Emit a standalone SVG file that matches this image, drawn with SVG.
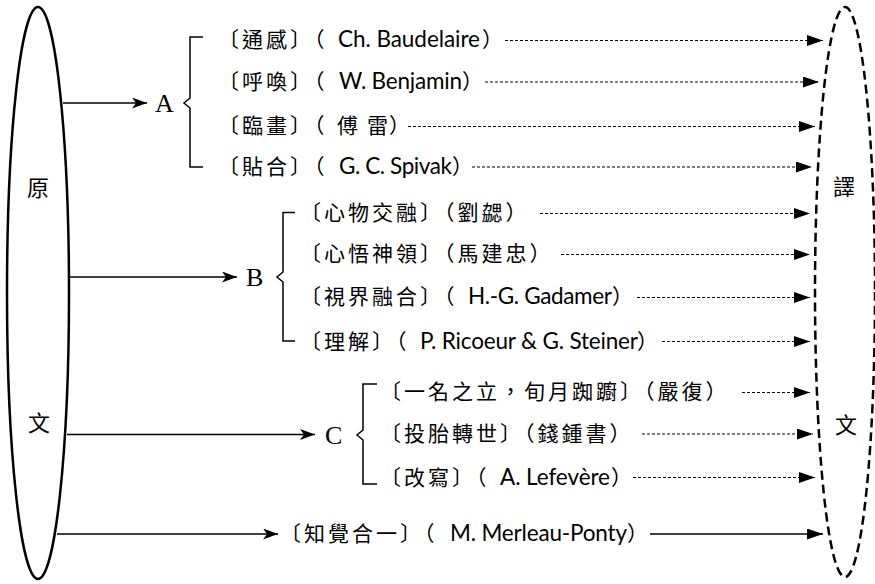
<svg xmlns="http://www.w3.org/2000/svg" width="875" height="584" viewBox="0 0 875 584">
<style>
.cjk{font-family:"Noto Sans CJK TC","Noto Sans CJK JP",sans-serif;font-size:21px;letter-spacing:3px;fill:#000}
.cjk1{font-family:"Noto Sans CJK TC","Noto Sans CJK JP",sans-serif;font-size:21px;fill:#000}
.lat{font-family:Lato,"Liberation Sans",sans-serif;font-size:22.5px;fill:#000}
.big{font-family:"Noto Sans CJK TC",sans-serif;font-size:22px;fill:#000;text-anchor:middle}
.ser{font-family:"Liberation Serif",serif;font-size:26px;fill:#000}
.sol{stroke:#000;stroke-width:1.5;fill:none}
.dash{stroke:#000;stroke-width:1;stroke-dasharray:3 2;fill:none}
.brace{stroke:#000;stroke-width:1.5;fill:none}
</style>
<defs>
<marker id="tri" markerUnits="userSpaceOnUse" markerWidth="16" markerHeight="11" refX="16" refY="5.5" orient="auto"><path d="M0,0 L16,5.5 L0,11 z" fill="#000"/></marker>
<marker id="stealth" markerUnits="userSpaceOnUse" markerWidth="15" markerHeight="11" refX="15" refY="5.5" orient="auto"><path d="M0,0 L15,5.5 L0,11 L4,5.5 z" fill="#000"/></marker>
</defs>
<rect width="875" height="584" fill="#fff"/>

<g id="source">
<ellipse cx="38" cy="293" rx="31" ry="286" fill="none" stroke="#000" stroke-width="2.5"/>
<text class="big" x="38" y="196">原</text>
<text class="big" x="39" y="431">文</text>
</g>
<g id="target">
<ellipse cx="845" cy="292" rx="30" ry="285" fill="none" stroke="#000" stroke-width="2.5" stroke-dasharray="9 5"/>
<text class="big" x="844" y="195">譯</text>
<text class="big" x="846" y="433">文</text>
</g>

<g id="groupA">
<text class="ser" x="155" y="112">A</text>
<path class="brace" d="M203,37 H190 V98 L184,103 L190,108 V167 H203"/>
</g>
<g id="groupB">
<text class="ser" x="246" y="286">B</text>
<path class="brace" d="M295,212.5 H283 V272 L277,277 L283,282 V341 H295"/>
</g>
<g id="groupC">
<text class="ser" x="325" y="444">C</text>
<path class="brace" d="M377,384 H363 V430 L357,435 L363,440 V484 H377"/>
</g>

<g id="a1"><text class="cjk" x="218" y="47">〔通感〕（</text><text class="lat" x="338" y="47" textLength="142">Ch. Baudelaire</text><text class="cjk" x="482" y="47">）</text></g>
<g id="a2"><text class="cjk" x="218" y="89">〔呼喚〕（</text><text class="lat" x="339" y="89" textLength="123">W. Benjamin</text><text class="cjk" x="462" y="89">）</text></g>
<g id="a3"><text class="cjk" x="218" y="133">〔臨畫〕（</text><text class="cjk1" x="337 367" y="133">傅雷</text><text class="cjk" x="389" y="133">）</text></g>
<g id="a4"><text class="cjk" x="218" y="174">〔貼合〕（</text><text class="lat" x="339" y="174" textLength="113">G. C. Spivak</text><text class="cjk" x="452" y="174">）</text></g>

<g id="b1"><text class="cjk" x="300" y="220">〔心物交融〕（劉勰）</text></g>
<g id="b2"><text class="cjk" x="300" y="261">〔心悟神領〕（馬建忠）</text></g>
<g id="b3"><text class="cjk" x="300" y="304">〔視界融合〕（</text><text class="lat" x="468" y="304" textLength="144">H.-G. Gadamer</text><text class="cjk" x="612" y="304">）</text></g>
<g id="b4"><text class="cjk" x="300" y="349">〔理解〕（</text><text class="lat" x="420" y="349" textLength="218">P. Ricoeur &amp; G. Steiner</text><text class="cjk" x="637" y="349">）</text></g>

<g id="c1"><text class="cjk" x="380" y="399">〔一名之立，旬月踟躕〕（嚴復）</text></g>
<g id="c2"><text class="cjk" x="380" y="441">〔投胎轉世〕（錢鍾書）</text></g>
<g id="c3"><text class="cjk" x="380" y="485">〔改寫〕（</text><text class="lat" x="500" y="485" textLength="110">A. Lefevère</text><text class="cjk" x="611" y="485">）</text></g>

<g id="d"><text class="cjk" x="280" y="541">〔知覺合一〕（</text><text class="lat" x="450" y="541" textLength="177">M. Merleau-Ponty</text><text class="cjk" x="627" y="541">）</text></g>

<g id="connectors">
<line class="sol" x1="63" y1="103" x2="147" y2="103" marker-end="url(#stealth)"/>
<line class="sol" x1="69" y1="277" x2="237" y2="277" marker-end="url(#stealth)"/>
<line class="sol" x1="67" y1="434.5" x2="315" y2="434.5" marker-end="url(#stealth)"/>
<line class="sol" x1="57" y1="534" x2="278" y2="534" marker-end="url(#stealth)"/>
<line class="sol" x1="650" y1="534" x2="823" y2="534" marker-end="url(#tri)"/>

<line class="dash" x1="505" y1="40.5" x2="823" y2="40.5" marker-end="url(#tri)"/>
<line class="dash" x1="485" y1="82" x2="819" y2="82" marker-end="url(#tri)"/>
<line class="dash" x1="408" y1="126.5" x2="815" y2="126.5" marker-end="url(#tri)"/>
<line class="dash" x1="472" y1="167" x2="812" y2="167" marker-end="url(#tri)"/>
<line class="dash" x1="540" y1="213.5" x2="810" y2="213.5" marker-end="url(#tri)"/>
<line class="dash" x1="561" y1="254.5" x2="810" y2="254.5" marker-end="url(#tri)"/>
<line class="dash" x1="637" y1="297.5" x2="810" y2="297.5" marker-end="url(#tri)"/>
<line class="dash" x1="662" y1="341.5" x2="810" y2="341.5" marker-end="url(#tri)"/>
<line class="dash" x1="742" y1="392.5" x2="810" y2="392.5" marker-end="url(#tri)"/>
<line class="dash" x1="642" y1="434" x2="813" y2="434" marker-end="url(#tri)"/>
<line class="dash" x1="633" y1="477.5" x2="815" y2="477.5" marker-end="url(#tri)"/>
</g>
</svg>
